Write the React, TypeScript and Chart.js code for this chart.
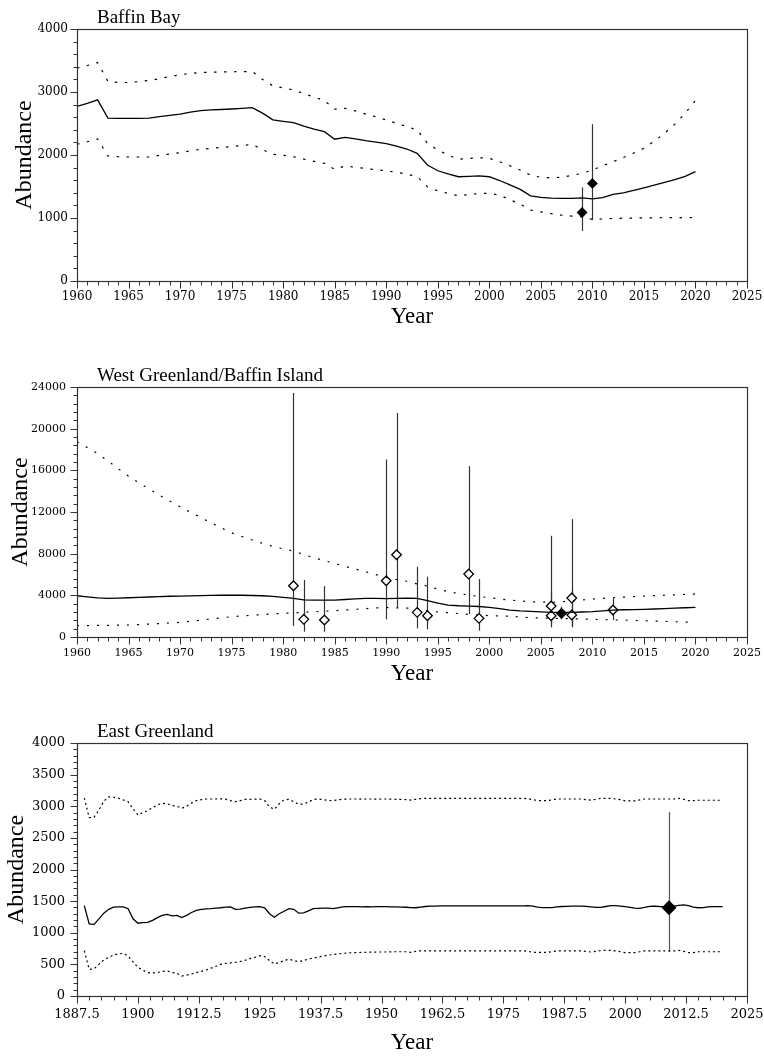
import React, { useEffect, useRef } from 'react';
import { Chart, registerables } from 'chart.js';

Chart.register(...registerables);

// ---------- Baffin Bay ----------
const bbYears = Array.from({ length: 61 }, (_, i) => 1960 + i);
const bbMedian = [
  2770, 2820, 2875, 2585, 2580, 2580, 2582, 2585, 2610, 2630,
  2650, 2680, 2705, 2715, 2722, 2730, 2740, 2753, 2665, 2557,
  2535, 2514, 2460, 2410, 2371, 2250, 2281, 2255, 2228, 2205,
  2180, 2140, 2095, 2027, 1841, 1750, 1700, 1655, 1660, 1668,
  1655, 1595, 1525, 1454, 1352, 1327, 1315, 1311, 1312, 1320,
  1305, 1322, 1375, 1400, 1440, 1480, 1522, 1565, 1610, 1660,
  1735,
];
const bbUpper = [
  3380, 3420, 3469, 3166, 3150, 3151, 3165, 3183, 3210, 3245,
  3273, 3295, 3310, 3315, 3318, 3321, 3324, 3326, 3200, 3098,
  3065, 3034, 2975, 2920, 2864, 2727, 2740, 2700, 2650, 2605,
  2557, 2505, 2450, 2398, 2186, 2080, 2000, 1932, 1945, 1957,
  1947, 1893, 1830, 1761, 1682, 1645, 1640, 1645, 1675, 1709,
  1761, 1830, 1893, 1960, 2030, 2106, 2220, 2345, 2490, 2663,
  2864,
];
const bbLower = [
  2170, 2210, 2255, 1984, 1972, 1968, 1968, 1968, 1995, 2015,
  2037, 2065, 2090, 2105, 2120, 2133, 2150, 2170, 2085, 2011,
  1995, 1973, 1935, 1900, 1868, 1772, 1825, 1805, 1785, 1765,
  1750, 1725, 1698, 1655, 1496, 1432, 1390, 1352, 1370, 1390,
  1390, 1363, 1290, 1220, 1125, 1098, 1070, 1045, 1030, 1018,
  977, 985, 993, 997, 1000, 1002, 1003, 1005, 1006, 1007,
  1008,
];
const bbObsYears = [2009, 2010];
const bbObs = [1088, 1549];
const bbObsLo = [795, 966];
const bbObsHi = [1486, 2488];
const bbObsFilled = [true, true];

// ---------- West Greenland / Baffin Island ----------
const wgYears = Array.from({ length: 61 }, (_, i) => 1960 + i);
const wgMedian = [
  3960, 3850, 3760, 3710, 3740, 3770, 3800, 3840, 3880, 3910,
  3932, 3950, 3970, 3990, 4010, 4028, 4010, 3985, 3961, 3900,
  3807, 3700, 3560, 3548, 3548, 3548, 3600, 3660, 3700, 3700,
  3690, 3700, 3720, 3710, 3481, 3250, 3069, 3000, 2973, 2930,
  2848, 2720, 2589, 2510, 2461, 2410, 2366, 2360, 2366, 2400,
  2430, 2510, 2589, 2615, 2635, 2653, 2690, 2730, 2770, 2810,
  2848,
];
const wgUpper = [
  18730, 18200, 17614, 16900, 16150, 15440, 14800, 14200, 13618, 13050,
  12500, 11980, 11470, 10963, 10480, 10004, 9650, 9310, 8983, 8700,
  8460, 8247, 7920, 7607, 7330, 7063, 6780, 6520, 6263, 5990,
  5721, 5520, 5350, 5100, 4891, 4600, 4347, 4180, 4028, 3890,
  3770, 3650, 3548, 3460, 3389, 3350, 3324, 3380, 3452, 3550,
  3644, 3710, 3770, 3820, 3880, 3932, 3970, 4010, 4050, 4090,
  4124,
];
const wgLower = [
  1087, 1100, 1115, 1125, 1140, 1150, 1190, 1240, 1290, 1350,
  1406, 1510, 1620, 1730, 1840, 1950, 2020, 2090, 2160, 2215,
  2270, 2320, 2375, 2425, 2475, 2526, 2590, 2660, 2720, 2790,
  2830, 2800, 2775, 2750, 2493, 2400, 2334, 2250, 2173, 2110,
  2045, 2020, 2000, 1925, 1852, 1820, 1790, 1775, 1760, 1730,
  1695, 1670, 1645, 1620, 1590, 1565, 1530, 1500, 1465, 1435,
  1406,
];
const wgObsYears = [1981, 1982, 1984, 1990, 1991, 1993, 1994, 1998, 1999, 2006, 2006, 2007, 2008, 2008, 2012];
const wgObs = [4922, 1695, 1630, 5400, 7893, 2366, 2045, 6042, 1790, 2973, 2045, 2270, 3740, 2110, 2589];
const wgObsLo = [1055, 510, 510, 1695, 2848, 832, 736, 2206, 608, 928, 1200, 1695, 928, 1100, 1630];
const wgObsHi = [23430, 5466, 4890, 17040, 21510, 6745, 5785, 16400, 5560, 9716, 4400, 2906, 11316, 4600, 3710];
const wgObsFilled = [false, false, false, false, false, false, false, false, false, false, false, true, false, false, false];

// ---------- East Greenland ----------
const egYears = Array.from({ length: 132 }, (_, i) => 1889 + i);
const egMedian = [
  1430, 1140, 1133, 1220, 1310, 1370, 1405, 1410, 1410, 1380, // 1889-1898
  1220, 1150, 1160, 1165, 1195, 1240, 1275, 1290, 1268, 1275, // 1899-1908
  1240, 1275, 1320, 1355, 1370, 1376, 1380, 1388, 1395, 1405, // 1909-1918
  1410, 1370, 1372, 1390, 1400, 1408, 1412, 1395, 1300, 1245, // 1919-1928
  1300, 1340, 1380, 1370, 1310, 1315, 1345, 1380, 1385, 1390, // 1929-1938
  1388, 1380, 1395, 1410, 1412, 1412, 1412, 1410, 1412, 1410, // 1939-1948
  1412, 1414, 1412, 1410, 1408, 1404, 1403, 1398, 1395, 1405, // 1949-1958
  1415, 1420, 1422, 1424, 1425, 1425, 1425, 1425, 1425, 1425, // 1959-1968
  1425, 1425, 1425, 1425, 1425, 1425, 1425, 1425, 1425, 1425, // 1969-1978
  1425, 1428, 1420, 1405, 1398, 1396, 1398, 1408, 1415, 1418, // 1979-1988
  1420, 1420, 1420, 1418, 1410, 1400, 1402, 1415, 1428, 1430, // 1989-1998
  1422, 1412, 1402, 1388, 1385, 1400, 1418, 1420, 1415, 1412, // 1999-2008
  1410, 1420, 1432, 1440, 1430, 1405, 1395, 1398, 1408, 1412, // 2009-2018
  1412, 1412,                                                 // 2019-2020
];
const egUpper = [
  3130, 2820, 2826, 2940, 3080, 3150, 3140, 3128, 3100, 3070,
  2960, 2862, 2900, 2930, 2980, 3020, 3046, 3040, 3010, 3000,
  2968, 3000, 3050, 3090, 3105, 3115, 3115, 3115, 3118, 3112,
  3090, 3072, 3090, 3108, 3110, 3112, 3115, 3090, 2990, 2952,
  3040, 3100, 3110, 3070, 3031, 3036, 3070, 3105, 3115, 3105,
  3092, 3088, 3100, 3110, 3115, 3115, 3115, 3112, 3115, 3115,
  3112, 3115, 3115, 3112, 3110, 3110, 3105, 3098, 3110, 3120,
  3125, 3125, 3125, 3125, 3125, 3125, 3125, 3125, 3125, 3125,
  3125, 3125, 3125, 3125, 3125, 3125, 3125, 3125, 3125, 3125,
  3125, 3120, 3105, 3090, 3090, 3090, 3100, 3115, 3115, 3115,
  3115, 3115, 3115, 3105, 3095, 3110, 3125, 3125, 3125, 3115,
  3105, 3085, 3085, 3085, 3100, 3115, 3115, 3115, 3115, 3115,
  3115, 3115, 3125, 3110, 3088, 3088, 3095, 3095, 3095, 3095,
  3095, 3095,
];
const egLower = [
  716, 421, 430, 500, 569, 610, 648, 665, 674, 630,
  540, 453, 410, 369, 365, 369, 390, 395, 372, 360,
  316, 330, 348, 370, 390, 411, 440, 470, 500, 516,
  525, 530, 545, 565, 590, 610, 637, 625, 560, 506,
  530, 560, 580, 560, 543, 560, 585, 600, 615, 632,
  645, 655, 665, 674, 680, 685, 686, 690, 692, 694,
  695, 696, 696, 698, 700, 700, 700, 690, 705, 715,
  715, 715, 715, 715, 715, 715, 715, 715, 715, 715,
  715, 715, 715, 715, 715, 715, 715, 715, 715, 715,
  715, 708, 690, 690, 690, 690, 700, 712, 712, 712,
  712, 712, 712, 705, 695, 705, 720, 720, 720, 712,
  700, 685, 685, 685, 700, 712, 712, 712, 712, 712,
  712, 712, 722, 705, 685, 685, 700, 700, 700, 700,
  700, 700,
];
const egObsYears = [2009];
const egObs = [1395];
const egObsLo = [700];
const egObsHi = [2910];
const egObsFilled = [true];

type Spec = {
  title: string;
  top: number;
  height: number;
  padTop: number;
  xAxisH: number;
  yAxisW: number;
  years: number[];
  median: number[];
  upper: number[];
  lower: number[];
  obsYears: number[];
  obs: number[];
  obsLo: number[];
  obsHi: number[];
  obsFilled: boolean[];
  xMin: number;
  xMax: number;
  xStep: number;
  xMinor: number;
  yMax: number;
  yStep: number;
  yMinor: number;
  tickFont: number;
  xPad: number;
  yPad: number;
  yTitlePad: number;
  xTitlePad: number;
  dash: number[];
  pointR: number;
  barColor: string;
};

const specs: Spec[] = [
  {
    title: 'Baffin Bay', top: 0, height: 340, padTop: 29, xAxisH: 59, yAxisW: 77,
    years: bbYears, median: bbMedian, upper: bbUpper, lower: bbLower,
    obsYears: bbObsYears, obs: bbObs, obsLo: bbObsLo, obsHi: bbObsHi, obsFilled: bbObsFilled,
    xMin: 1960, xMax: 2025, xStep: 5, xMinor: 1, yMax: 4000, yStep: 1000, yMinor: 200,
    tickFont: 12, xPad: 9, yPad: 9, yTitlePad: 10.5, xTitlePad: 9.5, dash: [2.5, 7.5], pointR: 4.5,
    barColor: '#333',
  },
  {
    title: 'West Greenland/Baffin Island', top: 340, height: 360, padTop: 47, xAxisH: 63, yAxisW: 77,
    years: wgYears, median: wgMedian, upper: wgUpper, lower: wgLower,
    obsYears: wgObsYears, obs: wgObs, obsLo: wgObsLo, obsHi: wgObsHi, obsFilled: wgObsFilled,
    xMin: 1960, xMax: 2025, xStep: 5, xMinor: 1, yMax: 24000, yStep: 4000, yMinor: 800,
    tickFont: 11, xPad: 10, yPad: 11, yTitlePad: 6.5, xTitlePad: 12.5, dash: [2, 8], pointR: 4.8,
    barColor: '#333',
  },
  {
    title: 'East Greenland', top: 700, height: 357, padTop: 43, xAxisH: 61, yAxisW: 77,
    years: egYears, median: egMedian, upper: egUpper, lower: egLower,
    obsYears: egObsYears, obs: egObs, obsLo: egObsLo, obsHi: egObsHi, obsFilled: egObsFilled,
    xMin: 1887.5, xMax: 2025, xStep: 12.5, xMinor: 2.5, yMax: 4000, yStep: 500, yMinor: 100,
    tickFont: 13, xPad: 11, yPad: 12, yTitlePad: 2, xTitlePad: 0, dash: [2, 3], pointR: 6.5,
    barColor: '#555',
  },
];

const decorPlugin = {
  id: 'decor',
  beforeDatasetsDraw(chart: any, _args: any, opts: any) {
    const { ctx } = chart;
    const xs = chart.scales.x;
    const ys = chart.scales.y;
    ctx.save();
    ctx.strokeStyle = opts.barColor;
    ctx.lineWidth = 1.2;
    opts.barX.forEach((xv: number, i: number) => {
      const px = Math.round(xs.getPixelForValue(xv)) + 0.5;
      ctx.beginPath();
      ctx.moveTo(px, ys.getPixelForValue(opts.barLo[i]));
      ctx.lineTo(px, ys.getPixelForValue(opts.barHi[i]));
      ctx.stroke();
    });
    ctx.restore();
  },
  afterDraw(chart: any, _args: any, opts: any) {
    const { ctx, chartArea } = chart;
    const xs = chart.scales.x;
    const ys = chart.scales.y;
    const L = Math.round(chartArea.left) + 0.5;
    const R = Math.round(chartArea.right) + 0.5;
    const T = Math.round(chartArea.top) + 0.5;
    const B = Math.round(chartArea.bottom) + 0.5;
    ctx.save();
    ctx.strokeStyle = '#333';
    ctx.lineWidth = 1.2;
    ctx.strokeRect(L, T, R - L, B - T);
    ctx.lineWidth = 1;
    // x ticks
    const nx = Math.round((xs.max - xs.min) / opts.xMinor);
    for (let i = 0; i <= nx; i++) {
      const v = xs.min + i * opts.xMinor;
      const r = (v - xs.min) / opts.xMajor;
      const major = Math.abs(r - Math.round(r)) < 1e-6;
      const px = Math.round(xs.getPixelForValue(v)) + 0.5;
      ctx.beginPath();
      ctx.moveTo(px, B);
      ctx.lineTo(px, B + (major ? 7 : 4));
      ctx.stroke();
    }
    const ny = Math.round((ys.max - ys.min) / opts.yMinor);
    for (let i = 0; i <= ny; i++) {
      const v = ys.min + i * opts.yMinor;
      const r = (v - ys.min) / opts.yMajor;
      const major = Math.abs(r - Math.round(r)) < 1e-6;
      const py = Math.round(ys.getPixelForValue(v)) + 0.5;
      ctx.beginPath();
      ctx.moveTo(L, py);
      ctx.lineTo(L - (major ? 7 : 4), py);
      ctx.stroke();
    }
    // panel title
    ctx.fillStyle = '#000';
    ctx.font = '19px "Liberation Serif"';
    ctx.textBaseline = 'middle';
    ctx.textAlign = 'left';
    ctx.fillText(opts.title, 97, chartArea.top - 11);
    ctx.restore();
  },
};

function Panel({ s }: { s: Spec }) {
  const ref = useRef<HTMLCanvasElement>(null);
  useEffect(() => {
    const pts = (ys: number[], vs: number[]) => ys.map((y, i) => ({ x: y, y: vs[i] }));
    const chart = new Chart(ref.current as HTMLCanvasElement, {
      type: 'line',
      data: {
        datasets: [
          {
            data: pts(s.years, s.upper), borderColor: '#000', borderWidth: 1.2,
            borderDash: s.dash, pointRadius: 0, fill: false, tension: 0,
          },
          {
            data: pts(s.years, s.lower), borderColor: '#000', borderWidth: 1.2,
            borderDash: s.dash, pointRadius: 0, fill: false, tension: 0,
          },
          {
            data: pts(s.years, s.median), borderColor: '#000', borderWidth: 1.3,
            pointRadius: 0, fill: false, tension: 0,
          },
          {
            data: pts(s.obsYears, s.obs), showLine: false, pointStyle: 'rectRot',
            pointRadius: s.pointR, pointHoverRadius: s.pointR,
            pointBackgroundColor: s.obsFilled.map((f) => (f ? '#000' : '#fff')),
            pointBorderColor: '#000', pointBorderWidth: 1.3,
          },
        ] as any,
      },
      options: {
        responsive: false,
        animation: false,
        devicePixelRatio: 1,
        events: [],
        layout: { padding: { top: s.padTop, right: 17, left: 0, bottom: 0 } },
        plugins: {
          legend: { display: false },
          tooltip: { enabled: false },
          decor: {
            title: s.title, xMinor: s.xMinor, xMajor: s.xStep, yMinor: s.yMinor, yMajor: s.yStep,
            barX: s.obsYears, barLo: s.obsLo, barHi: s.obsHi, barColor: s.barColor,
          },
        } as any,
        scales: {
          x: {
            type: 'linear', min: s.xMin, max: s.xMax, offset: false,
            grid: { display: false, drawTicks: false },
            border: { display: false },
            ticks: {
              stepSize: s.xStep, autoSkip: false, maxRotation: 0, minRotation: 0,
              padding: s.xPad, color: '#000',
              font: { family: '"DejaVu Serif"', size: s.tickFont },
              callback: (v: any) => String(v),
            },
            title: {
              display: true, text: 'Year', color: '#000',
              font: { family: '"Liberation Serif"', size: 23 },
              padding: { top: 0, bottom: s.xTitlePad },
            },
            afterFit: (sc: any) => {
              sc.height = s.xAxisH;
              sc.paddingLeft = 0;
              sc.paddingRight = 0;
            },
          },
          y: {
            type: 'linear', min: 0, max: s.yMax,
            grid: { display: false, drawTicks: false },
            border: { display: false },
            ticks: {
              stepSize: s.yStep, autoSkip: false, padding: s.yPad, color: '#000',
              font: { family: '"DejaVu Serif"', size: s.tickFont },
              callback: (v: any) => String(v),
            },
            title: {
              display: true, text: 'Abundance', color: '#000',
              font: { family: '"Liberation Serif"', size: 24 },
              padding: { top: s.yTitlePad, bottom: 0 },
            },
            afterFit: (sc: any) => {
              sc.width = s.yAxisW;
              sc.paddingTop = 0;
              sc.paddingBottom = 0;
            },
          },
        },
      } as any,
      plugins: [decorPlugin as any],
    });
    return () => chart.destroy();
  }, [s]);
  return (
    <canvas
      ref={ref}
      width={764}
      height={s.height}
      style={{ position: 'absolute', left: 0, top: s.top, width: 764, height: s.height, display: 'block' }}
    />
  );
}

export default function App() {
  return (
    <div style={{ position: 'absolute', left: 0, top: 0, width: 764, height: 1057, background: '#fff' }}>
      {specs.map((s) => (
        <Panel key={s.title} s={s} />
      ))}
    </div>
  );
}
